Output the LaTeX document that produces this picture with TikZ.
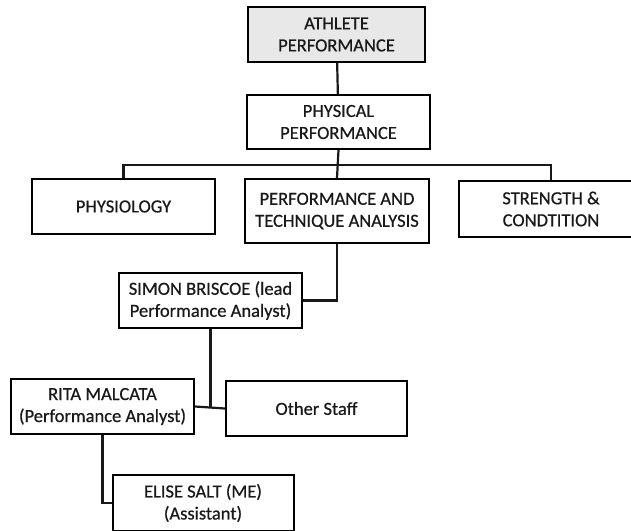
\documentclass[tikz,border=0pt]{standalone}
\usepackage{fontspec}
\setmainfont{Carlito}[FakeBold=0.6]
\usepackage{tikz}
\usetikzlibrary{positioning}

\begin{document}
\begin{tikzpicture}[x=1pt,y=-1pt,every node/.style={draw,rectangle,line width=2pt,align=center,inner sep=0pt,font=\fontsize{18.5}{22}\selectfont,text=black!90},box/.style={minimum width=183pt,minimum height=55pt},link/.style={line width=2.2pt,black!90}]
  \useasboundingbox (0,0) rectangle (631,530);
  \clip (0,0) rectangle (631,530);
  \node[box,minimum width=177pt,fill=gray!18] (ath) at (336.5,34.5) {ATHLETE\\PERFORMANCE};
  \node[box,minimum height=54pt] (phys) at (338.5,122) {PHYSICAL\\PERFORMANCE};
  \node[box] (physio) at (123.5,206.5) {PHYSIOLOGY};
  \node[box,minimum width=184pt,minimum height=64pt] (perf) at (337,211) {PERFORMANCE AND\\TECHNIQUE ANALYSIS};
  \node[box,minimum width=184pt,minimum height=56pt] (str) at (551,209) {STRENGTH \&\\CONDTITION};
  \node[box] (simon) at (210.5,300.5) {SIMON BRISCOE (lead\\Performance Analyst)};
  \node[box] (rita) at (102.5,406.5) {RITA MALCATA\\(Performance Analyst)};
  \node[box,minimum width=181pt] (other) at (316.5,408.5) {Other Staff};
  \node[box,minimum width=181pt,minimum height=56pt] (elise) at (203,503) {ELISE SALT (ME)\\(Assistant)};
  \coordinate (bus) at (0,165);
  \draw[link] (ath)--(phys);
  \draw[link] (phys.south)--(perf.north);
  \draw[link] (physio.north)--(physio.north |- bus)-|(str.north);
  \draw[link] (perf.south)|-(simon.east);
  \draw[link] (rita.east)--(other.west);
  \draw[link] (simon.south)--(simon.south |- rita.east);
  \draw[link] (rita.south)|-(elise.west);
\end{tikzpicture}
\end{document}
